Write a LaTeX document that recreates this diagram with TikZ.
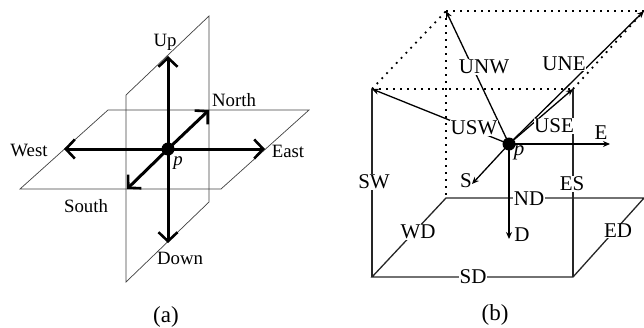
\documentclass[tikz,border=0pt]{standalone}
\usepackage{fontspec}
\setmainfont{Liberation Serif}
\usepackage{tikz}
\usetikzlibrary{arrows.meta, positioning}

\begin{document}
\begin{tikzpicture}[
    x=1pt, y=-1pt,
    % Base styles for lines and labels
    plane/.style={draw=black!75, line width=0.7pt},
    bold/.style={line width=3pt, -{Straight Barb[length=9pt,width=19pt,line width=2.6pt]}},
    thin arrow/.style={line width=1.3pt, -{Stealth[length=7pt,width=6pt]}},
    box/.style={draw=black!85, line width=1.3pt},
    dots/.style={line width=1.8pt, dash pattern=on 1.8pt off 5.2pt},
    dot/.style={circle, fill=black, inner sep=0pt, minimum size=13pt},
    namea/.style={font=\fontsize{18.8}{18.8}\selectfont, inner sep=0pt},
    nameb/.style={font=\fontsize{21}{21}\selectfont, inner sep=0.5pt, fill=white},
    nameplain/.style={font=\fontsize{21}{21}\selectfont, inner sep=0pt},
    caption/.style={font=\fontsize{23}{23}\selectfont, inner sep=0pt}
]
\useasboundingbox (0,0) rectangle (644,327);

% --- Panel (a) ---
\node [dot] (pa) at (168,149) {};
\coordinate (up) at (168,56);
\coordinate (down) at (168,243);
\coordinate (west) at (64,149);
\coordinate (east) at (265,149);
\coordinate (north) at (209,110);
\coordinate (south) at (127,189);

% planes
\coordinate (h1) at (20,189);
\coordinate (h2) at (108,110);
\coordinate (h3) at (309,110);
\coordinate (h4) at (221,189);
\coordinate (v1) at (126,95);
\coordinate (v2) at (209,16);
\coordinate (v3) at (209,202);
\coordinate (v4) at (126,282);
\draw [plane] (h1) -- (h2) -- (h3) -- (h4) -- cycle;
\draw [plane] (v1) -- (v2) -- (v3) -- (v4) -- cycle;

\draw [bold] (pa.center) -- (up);
\draw [bold] (pa.center) -- (down);
\draw [bold] (pa.center) -- (west);
\draw [bold] (pa.center) -- (east);
\draw [bold] (pa.center) -- (north);
\draw [bold] (pa.center) -- (south);

\node [namea] (lup) at (165,42) {Up};
\node [namea] (ldown) at (180,258) {Down};
\node [namea] (lwest) at (29,150) {West};
\node [namea] (least) at (288,151) {East};
\node [namea] (lnorth) at (234,100) {North};
\node [namea] (lsouth) at (86,206) {South};
\node [namea] (lpa) at (178,163) {\itshape p};
\node [caption] (capa) at (166,317) {(a)};

% --- Panel (b) ---
\node [dot] (pb) at (509,144) {};
\coordinate (tbl) at (446,11);
\coordinate (tbr) at (644,11);
\coordinate (tfl) at (372,89);
\coordinate (tfr) at (573,89);
\coordinate (bbl) at (446,198);
\coordinate (bbr) at (644,198);
\coordinate (bfl) at (372,277);
\coordinate (bfr) at (573,277);
\coordinate (e) at (610,144);
\coordinate (d) at (509,239);
\coordinate (s) at (472,184);

% dotted top of the box
\draw [dots] (tfl) -- (tbl);
\draw [dots] (tbl) -- (tbr);
\draw [dots] (tfl) -- (tfr);
\draw [dots] (tbl) -- (bbl);
\draw [dots] (tfr) -- (tbr);

% solid part of the box
\draw [box] (tfl) -- (bfl);
\draw [box] (tfr) -- (bfr);
\draw [box] (bfl) -- (bfr) -- (bbr) -- (bbl) -- cycle;

% arrows from p
\draw [thin arrow] (pb.center) -- (tbl);
\draw [thin arrow] (pb.center) -- (tfl);
\draw [thin arrow] (pb.center) -- (tfr);
\draw [thin arrow] (pb.center) -- (tbr);
\draw [thin arrow] (pb.center) -- (e);
\draw [thin arrow] (pb.center) -- (d);
\draw [thin arrow] (pb.center) -- (s);

\node [nameb] (lunw) at (484,67) {UNW};
\node [nameb] (lune) at (564,64) {UNE};
\node [nameb] (lusw) at (474,128) {USW};
\node [nameb] (luse) at (554,126) {USE};
\node [nameb] (lsw) at (374,182) {SW};
\node [nameb] (les) at (572,184) {ES};
\node [nameb] (lnd) at (529,199) {ND};
\node [nameb] (lwd) at (418,232) {WD};
\node [nameb] (led) at (618,231) {ED};
\node [nameb] (lsd) at (473,277) {SD};
\node [nameplain] (le) at (601,133) {E};
\node [nameplain] (ld) at (522,235) {D};
\node [nameplain] (ls) at (466,181) {S};
\node [nameplain] (lpb) at (519,153) {\itshape p};
\node [caption] (capb) at (495,315) {(b)};

\end{tikzpicture}
\end{document}
